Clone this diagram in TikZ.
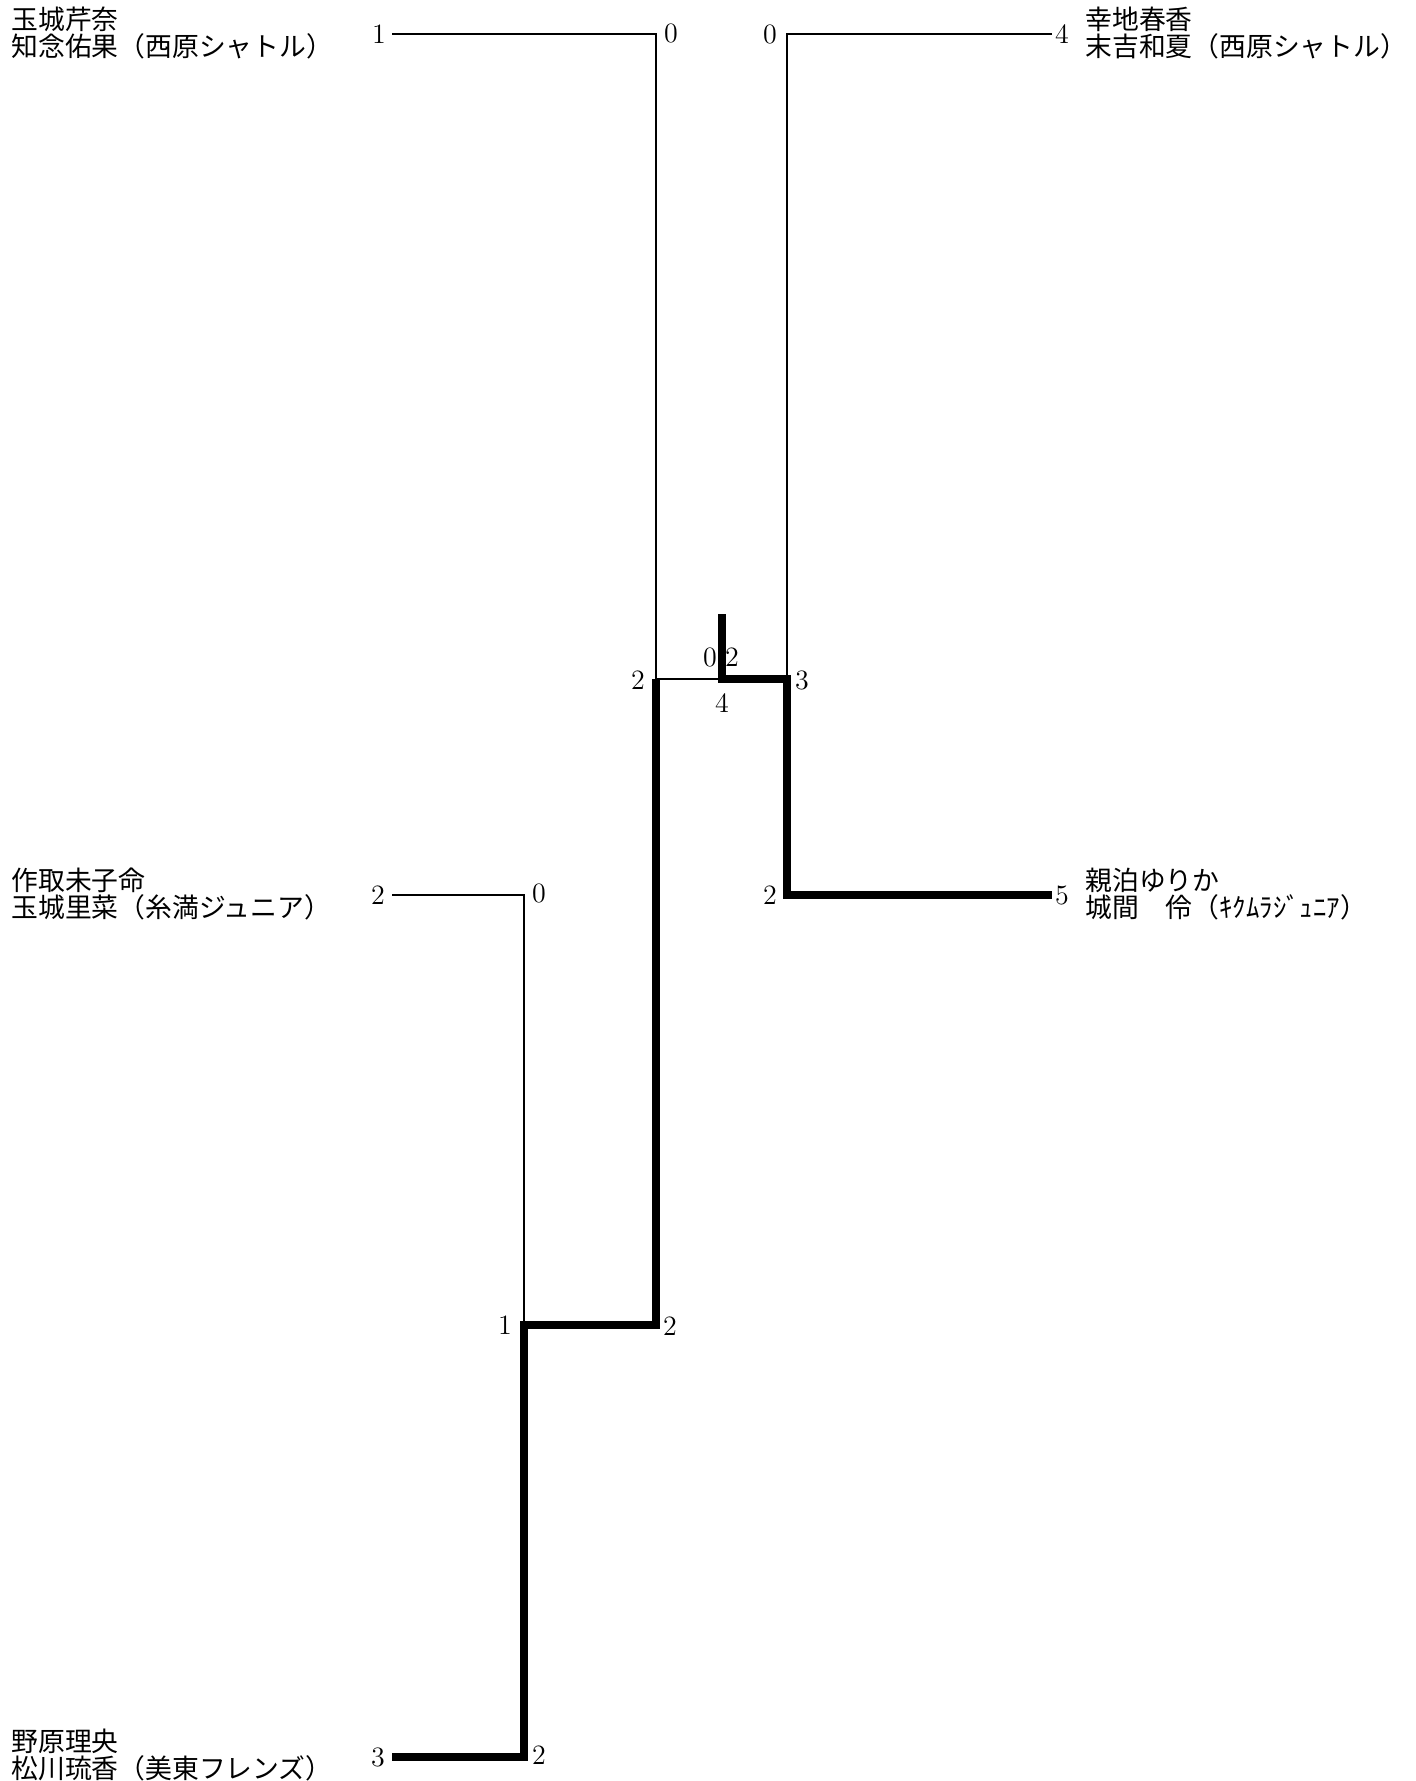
\documentclass[tikz,border=0pt]{standalone}
\usepackage{fontspec}
\newfontfamily\jp{Noto Sans CJK JP}
\begin{document}
\begin{tikzpicture}[x=0.5pt,y=-0.5pt,
  thinline/.style={line width=1pt,line join=miter},
  winline/.style={line width=4.3pt,line join=miter},
  player/.style={font=\jp\fontsize{13.4pt}{11.6pt}\selectfont,align=left,inner sep=0pt,anchor=west},
  score/.style={font=\fontsize{14pt}{15pt}\selectfont,inner sep=0pt}]
\useasboundingbox (0,0) rectangle (1415,1781);
% bracket points
\coordinate (A1) at (392,34);
\coordinate (A2) at (656,34);
\coordinate (M1) at (656,679);
\coordinate (B1) at (1052,34);
\coordinate (B2) at (787,34);
\coordinate (M2) at (787,679);
\coordinate (C1) at (392,895);
\coordinate (C2) at (524,895);
\coordinate (L1) at (524,1325);
\coordinate (L2) at (656,1325);
\coordinate (D1) at (392,1757);
\coordinate (D2) at (524,1757);
\coordinate (E1) at (1052,895);
\coordinate (E2) at (787,895);
\coordinate (F) at (722,679);
\coordinate (F0) at (722,614);
% thin lines
\draw[thinline] (A1) -- (A2) -- (M1);
\draw[thinline] (B1) -- (B2) -- (M2);
\draw[thinline] (C1) -- (C2) -- (L1);
\draw[thinline] (M1) -- (F);
% winning lines
\draw[winline] (D1) -- (D2) -- (L1) -- (L2) -- (M1);
\draw[winline] (F0) -- (F) -- (M2) -- (E2) -- (E1);
% players
\node[player] (p1) at (11,33) {玉城芹奈\\知念佑果（西原シャトル）};
\node[player] (p2) at (11,894) {作取未子命\\玉城里菜（糸満ジュニア）};
\node[player] (p3) at (11,1755) {野原理央\\松川琉香（美東フレンズ）};
\node[player] (p4) at (1085,33) {幸地春香\\末吉和夏（西原シャトル）};
\node[player] (p5) at (1085,894) {親泊ゆりか\\城間　伶（ｷｸﾑﾗｼﾞｭﾆｱ）};
% scores
\node[score] (s1) at (379,34) {1};
\node[score] (s2) at (671,33) {0};
\node[score] (s3) at (770,34) {0};
\node[score] (s4) at (1062,34) {4};
\node[score] (s5) at (378,895) {2};
\node[score] (s6) at (539,893) {0};
\node[score] (s7) at (505,1325) {1};
\node[score] (s8) at (670,1326) {2};
\node[score] (s9) at (378,1757) {3};
\node[score] (s10) at (539,1755) {2};
\node[score] (s11) at (638,680) {2};
\node[score] (s12) at (710,657) {0};
\node[score] (s13) at (732,657) {2};
\node[score] (s14) at (722,703) {4};
\node[score] (s15) at (802,680) {3};
\node[score] (s16) at (770,895) {2};
\node[score] (s17) at (1062,895) {5};
\end{tikzpicture}
\end{document}
